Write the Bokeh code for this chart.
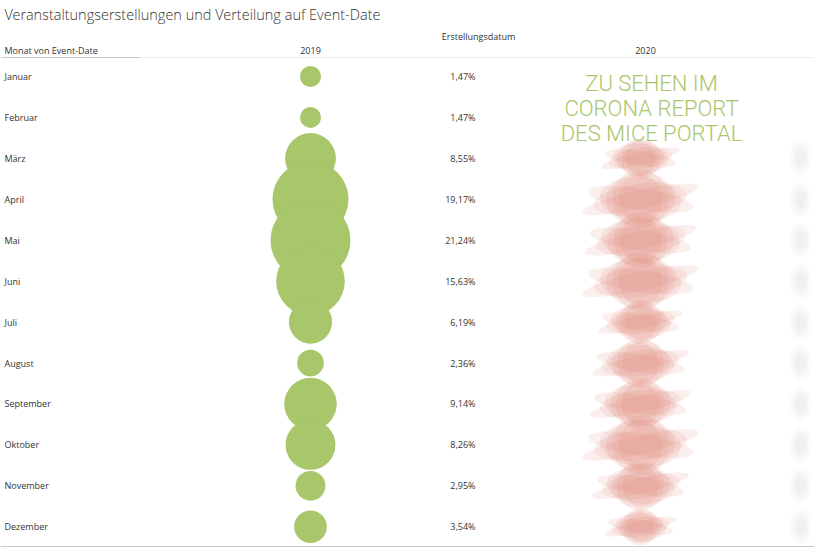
import math
from bokeh.plotting import figure
from bokeh.models import Range1d, ColumnDataSource
from bokeh.core.properties import value
from bokeh.embed import file_html
from bokeh.resources import INLINE

# ---------------- data ----------------
months = ["Januar", "Februar", "März", "April", "Mai", "Juni", "Juli",
          "August", "September", "Oktober", "November", "Dezember"]
share_2019 = [1.47, 1.47, 8.55, 19.17, 21.24, 15.63, 6.19, 2.36, 9.14, 8.26, 2.95, 3.54]
labels_2019 = ["1,47%", "1,47%", "8,55%", "19,17%", "21,24%", "15,63%", "6,19%",
               "2,36%", "9,14%", "8,26%", "2,95%", "3,54%"]
# 2020 column is blurred in the original; rough estimates of the hidden bubbles
share_2020 = [0, 0, 6.0, 13.0, 12.0, 13.0, 7.0, 9.0, 10.0, 13.0, 9.0, 5.0]

title = "Veranstaltungserstellungen und Verteilung auf Event-Date"
col_header = "Monat von Event-Date"
top_header = "Erstellungsdatum"
years = ["2019", "2020"]
note_lines = ["ZU SEHEN IM", "CORONA REPORT", "DES MICE PORTAL"]

# ---------------- layout ----------------
W, H = 814, 548
ROW0, ROWH = 76.0, 40.93          # pixel centre of first row, row spacing


def row(px):
    """pixel (from top) -> row coordinate"""
    return (px - ROW0) / ROWH


p = figure(width=W, height=H, output_backend="svg", toolbar_location=None,
           x_range=Range1d(0, W), y_range=Range1d(row(H), row(0)),
           min_border=0)
p.axis.visible = False
p.grid.visible = False
p.outline_line_color = None
p.background_fill_color = "white"
p.border_fill_color = "white"

FONT = value("Open Sans")
TXT = "#333333"
GREEN = "#a8c66a"

idx = list(range(len(months)))
K = 80.0 / math.sqrt(21.24)       # diameter per sqrt(percent)

# header lines
p.segment(x0=[0, 140], y0=[row(57)] * 2, x1=[140, W], y1=[row(57)] * 2,
          line_color=["#c8c8c8", "#ececec"], line_width=1)
p.segment(x0=[0], y0=[row(546)], x1=[W], y1=[row(546)], line_color="#c8c8c8", line_width=1)

# title and headers
p.text(x=[4], y=[row(14)], text=[title], text_font=value("'Open Sans Light', 'Open Sans'"),
       text_font_size="14.5px", text_color="#333333", text_baseline="middle", text_align="left")
p.text(x=[4], y=[row(50)], text=[col_header], text_font=FONT, text_font_size="9px",
       text_color=TXT, text_baseline="middle", text_align="left")
p.text(x=[478], y=[row(36)], text=[top_header], text_font=FONT, text_font_size="9px",
       text_color=TXT, text_baseline="middle", text_align="center")
p.text(x=[310, 645], y=[row(50)] * 2, text=years, text_font=FONT, text_font_size="9px",
       text_color=TXT, text_baseline="middle", text_align="center")

# month labels
p.text(x=[4] * len(months), y=idx, text=months, text_font=FONT, text_font_size="9px",
       text_color=TXT, text_baseline="middle", text_align="left")

# 2020 blurred bubbles (layered translucent ellipses)
red_x, red_y, red_w, red_h, red_a = [], [], [], [], []
grey_x, grey_y, grey_w, grey_h = [], [], [], []
for i, v in enumerate(share_2020):
    if v <= 0:
        continue
    d = K * math.sqrt(v)
    for fw, fh, ang in [(1.9, 0.3, 0.22), (1.7, 0.35, -0.15), (1.5, 0.5, 0.12), (1.3, 0.7, -0.08),
                        (1.1, 0.85, 0.05), (0.9, 0.95, 0.0), (0.7, 0.8, 0.15)]:
        red_x.append(640)
        red_y.append(i)
        red_w.append(d * fw)
        red_h.append(d * fh / ROWH)
        red_a.append(ang)
    for fw, fh in [(22, 34), (16, 26), (10, 18)]:
        grey_x.append(800)
        grey_y.append(i)
        grey_w.append(fw)
        grey_h.append(fh / ROWH)

p.ellipse(x=red_x, y=red_y, width=red_w, height=red_h, angle=red_a,
          fill_color="#dd6b5e", fill_alpha=0.11, line_color=None)
p.ellipse(x=grey_x, y=grey_y, width=grey_w, height=grey_h,
          fill_color="#9a9a9a", fill_alpha=0.05, line_color=None)

# 2019 bubbles
src = ColumnDataSource(dict(x=[310] * len(months), y=idx,
                            size=[K * math.sqrt(v) for v in share_2019],
                            lab=labels_2019))
p.scatter(x="x", y="y", size="size", source=src, marker="circle",
          fill_color=GREEN, line_color=None)
p.text(x=[475] * len(months), y=idx, text=labels_2019, text_font=FONT, text_font_size="9px",
       text_color=TXT, text_baseline="middle", text_align="right")

# overlay note
p.text(x=[651] * 3, y=[row(83), row(108), row(133)], text=note_lines,
       text_font=value("'Roboto Light', Roboto"), text_font_size="22px", text_color=GREEN,
       text_baseline="middle", text_align="center")

open("out.html", "w").write(file_html(p, INLINE))
